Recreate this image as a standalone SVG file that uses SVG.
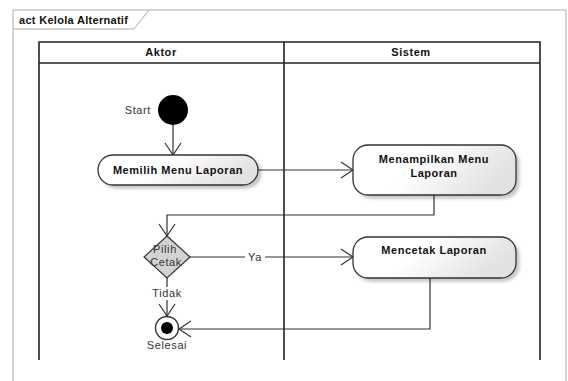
<svg xmlns="http://www.w3.org/2000/svg" width="568" height="381" viewBox="0 0 568 381">
<defs>
<linearGradient id="g" x1="0" y1="0" x2="1" y2="0.3">
<stop offset="0" stop-color="#ffffff"/>
<stop offset="0.45" stop-color="#ffffff"/>
<stop offset="1" stop-color="#e2e2e2"/>
</linearGradient>
<filter id="sh" x="-10%" y="-20%" width="125%" height="150%">
<feDropShadow dx="3" dy="3" stdDeviation="1.5" flood-color="#000" flood-opacity="0.22"/>
</filter>
<marker id="arr" markerWidth="14" markerHeight="18" refX="13" refY="9" orient="auto" markerUnits="userSpaceOnUse">
<path d="M1,1 L13,9 L1,17" fill="none" stroke="#333" stroke-width="1.2"/>
</marker>
<style>
.bold{font-family:"Liberation Sans",Arial,sans-serif;font-weight:bold;font-size:11px;fill:#111;letter-spacing:0.55px}
.lbl{font-family:"Liberation Sans",Arial,sans-serif;font-size:11px;fill:#333;letter-spacing:0.6px}
.act{fill:url(#g);stroke:#333;stroke-width:1.3;filter:url(#sh)}
.edge{fill:none;stroke:#333;stroke-width:1.2}
.lane{fill:none;stroke:#222;stroke-width:1.6}
</style>
</defs>
<rect width="568" height="381" fill="#fff"/>
<g id="frame">
<path d="M13,381 L13,10 L566,10 L566,381" fill="none" stroke="#aaa" stroke-width="1"/>
<path d="M13,29 L134,29 L149,10" fill="none" stroke="#aaa" stroke-width="1"/>
<text class="bold" x="19" y="24" style="letter-spacing:0.3px">act Kelola Alternatif</text>
</g>
<g id="lanes">
<path class="lane" d="M39,360 L39,42 L540,42 L540,360"/>
<line class="lane" x1="39" y1="63" x2="540" y2="63"/>
<line class="lane" x1="284" y1="42" x2="284" y2="360"/>
<text class="bold" x="161" y="56" text-anchor="middle">Aktor</text>
<text class="bold" x="411" y="56" text-anchor="middle">Sistem</text>
</g>
<g id="connectors">
<line class="edge" x1="173" y1="125" x2="173" y2="155" marker-end="url(#arr)"/>
<line class="edge" x1="258" y1="170" x2="353" y2="170" marker-end="url(#arr)"/>
<path class="edge" d="M434,195 L434,215 L167,215 L167,236" marker-end="url(#arr)"/>
<line class="edge" x1="190" y1="257" x2="353" y2="257" marker-end="url(#arr)"/>
<path class="edge" d="M430,278 L430,329 L179,329" marker-end="url(#arr)"/>
<line class="edge" x1="167" y1="277" x2="167" y2="316" marker-end="url(#arr)"/>
<rect x="245" y="250" width="20" height="13" fill="#fff"/>
<text class="lbl" x="255" y="261" text-anchor="middle">Ya</text>
<rect x="150" y="287" width="35" height="13" fill="#fff"/>
<text class="lbl" x="167" y="297" text-anchor="middle">Tidak</text>
</g>
<g id="start">
<circle cx="173" cy="110" r="15" fill="#000"/>
<text class="lbl" x="151" y="114" text-anchor="end">Start</text>
</g>
<g id="memilih">
<rect class="act" x="98" y="155" width="160" height="30" rx="15" ry="15"/>
<text class="bold" x="178" y="174" text-anchor="middle">Memilih Menu Laporan</text>
</g>
<g id="menampilkan">
<rect class="act" x="353" y="145" width="163" height="50" rx="15" ry="15"/>
<text class="bold" x="434" y="163" text-anchor="middle">Menampilkan Menu</text>
<text class="bold" x="434" y="177" text-anchor="middle">Laporan</text>
</g>
<g id="pilih">
<polygon points="167,236 190,257 167,278 144,257" fill="#d3d3d3" stroke="#333" stroke-width="1.2"/>
<text class="lbl" x="165" y="253" text-anchor="middle">Pilih</text>
<text class="lbl" x="166" y="266" text-anchor="middle">Cetak</text>
</g>
<g id="mencetak">
<rect class="act" x="353" y="237" width="163" height="41" rx="15" ry="15"/>
<text class="bold" x="434" y="254" text-anchor="middle">Mencetak Laporan</text>
</g>
<g id="selesai">
<circle cx="167" cy="328" r="11.5" fill="#fff" stroke="#333" stroke-width="1.4"/>
<circle cx="167" cy="328" r="6" fill="#000"/>
<text class="lbl" x="167" y="349" text-anchor="middle">Selesai</text>
</g>
</svg>
